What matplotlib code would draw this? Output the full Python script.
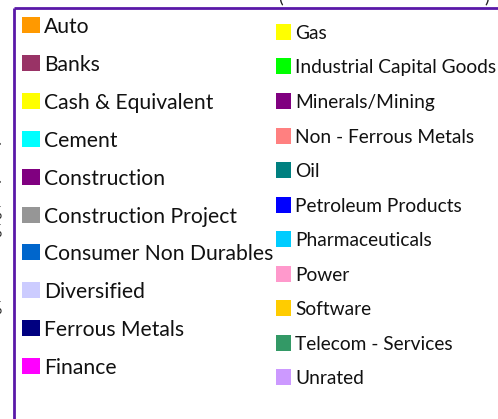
import matplotlib.pyplot as plt
from matplotlib.patches import Rectangle

plt.rcParams['font.family'] = ['Lato', 'DejaVu Sans']

# ====================== DATA ======================
left_labels = ['Auto', 'Banks', 'Cash & Equivalent', 'Cement', 'Construction',
               'Construction Project', 'Consumer Non Durables', 'Diversified',
               'Ferrous Metals', 'Finance']
left_colors = ['#FF9900', '#993366', '#FFFF00', '#00FFFF', '#800080',
               '#969696', '#0066CC', '#CCCCFF', '#000080', '#FF00FF']

right_labels = ['Gas', 'Industrial Capital Goods', 'Minerals/Mining',
                'Non - Ferrous Metals', 'Oil', 'Petroleum Products',
                'Pharmaceuticals', 'Power', 'Software', 'Telecom - Services',
                'Unrated']
right_colors = ['#FFFF00', '#00FF00', '#800080', '#FF8080', '#008080',
                '#0000FF', '#00CCFF', '#FF99CC', '#FFCC00', '#339966',
                '#CC99FF']

W, H = 498, 419
fig = plt.figure(figsize=(W / 100, H / 100), dpi=100)
ax = fig.add_axes([0, 0, 1, 1])
ax.set_xlim(0, W)
ax.set_ylim(H, 0)
ax.axis('off')

# legend frame (only top and left edges visible in the crop)
frame_col = '#5A18A8'
ax.plot([14, W], [8, 8], color=frame_col, lw=2.0, solid_capstyle='butt')
ax.plot([14, 14], [8, H], color=frame_col, lw=2.0, solid_capstyle='butt')

# cut-off bits of the chart around the legend
ax.text(281, 3, '(', fontsize=13, ha='center', va='baseline', color='#222222')
ax.text(487, 3, ')', fontsize=13, ha='center', va='baseline', color='#222222')
for yy in [214, 232, 309]:
    ax.text(2, yy, '%', fontsize=12, ha='right', va='center', color='#222222')
for yy in [140, 178]:
    ax.text(1, yy, '.', fontsize=12, ha='right', va='center', color='#555555')


def draw_column(labels, colors, x0, sw, y0, step, fs):
    for i, (lab, c) in enumerate(zip(labels, colors)):
        yc = y0 + i * step
        ax.add_patch(Rectangle((x0, yc - 8), sw, 16, facecolor=c,
                               edgecolor='none'))
        ax.text(x0 + sw + 4, yc, lab, fontsize=fs, ha='left',
                va='center_baseline', color='#111111')


draw_column(left_labels, left_colors, 22, 18, 25, 37.9, 15.2)
draw_column(right_labels, right_colors, 276, 15, 32, 34.5, 13.8)

fig.savefig('out.png', dpi=100)
